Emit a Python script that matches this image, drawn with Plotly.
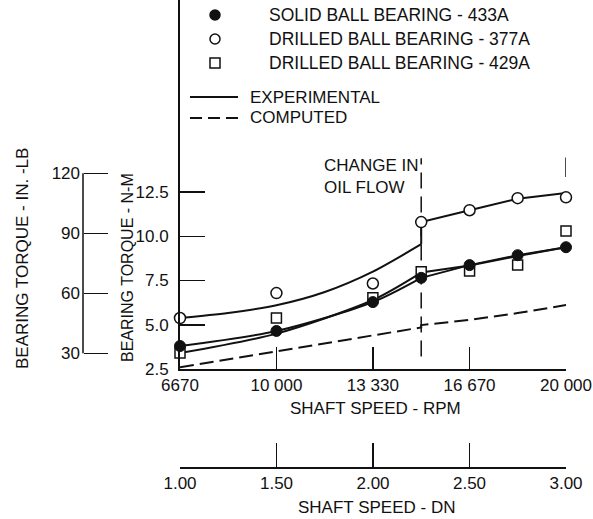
import plotly.graph_objects as go

W, H = 593, 519
FONT = "Liberation Sans, Arial, sans-serif"
INK = "#111111"
FS = 17

# ---- data ----
rpm = [6670, 10000, 13330, 15000, 16670, 18330, 20000]
solid_433A = [3.80, 4.65, 6.28, 7.65, 8.37, 8.93, 9.38]
drilled_377A = [5.38, 6.79, 7.33, 10.80, 11.47, 12.15, 12.20]
drilled_429A = [3.40, 5.38, 6.53, 7.99, 8.03, 8.37, 10.29]

exp_377A_rpm = [6670, 8330, 10000, 11670, 13330, 15000]
exp_377A = [5.38, 5.66, 6.10, 6.85, 8.00, 9.55]
exp_377A_hi_rpm = [15000, 15000, 16670, 18330, 20000]
exp_377A_hi = [9.55, 10.80, 11.47, 12.12, 12.45]
exp_lo_rpm = [6670, 10000, 13330, 15000]
exp_433A = [3.80, 4.65, 6.28, 7.65]
exp_429A = [3.40, 4.50, 6.40, 7.95]
exp_hi_rpm = [15000, 16670, 18330, 20000]
exp_433A_hi = [7.65, 8.37, 8.93, 9.38]
exp_429A_hi = [7.95, 8.35, 8.88, 9.38]

computed_rpm = [6670, 10000, 13330, 15000, 15000, 16670, 18330, 20000]
computed = [2.60, 3.50, 4.42, 4.85, 4.98, 5.27, 5.66, 6.11]

rpm_ticks = [6670, 10000, 13330, 16670, 20000]
rpm_labels = ["6670", "10 000", "13 330", "16 670", "20 000"]
nm_ticks = [2.5, 5.0, 7.5, 10.0, 12.5]
nm_labels = ["2.5", "5.0", "7.5", "10.0", "12.5"]
inlb_ticks = [30, 60, 90, 120]
dn_ticks = [1.0, 1.5, 2.0, 2.5, 3.0]
dn_labels = ["1.00", "1.50", "2.00", "2.50", "3.00"]

oil_flow_change_rpm = 15000
NM_PER_INLB = 0.112985

legend_names = ["SOLID BALL BEARING - 433A", "DRILLED BALL BEARING - 377A",
                "DRILLED BALL BEARING - 429A"]

# ---- geometry (pixels) ----
X0, X1 = 180, 566          # x axis ends
YB = 369                   # bottom of torque axis (2.5 N-m)
PX_PER_NM = 177 / 10.0     # 2.5 -> 12.5 spans 177 px
y_top = 2.5 + YB / PX_PER_NM
DN_Y = 467
INLB_X = 83


def px(x):
    return x / W


def py(y):
    return 1 - y / H


fig = go.Figure()

line = dict(color=INK, width=2)
fig.add_trace(go.Scatter(x=computed_rpm, y=computed, mode="lines",
                         line=dict(color=INK, width=2, dash="14px,6px"), cliponaxis=False))
fig.add_trace(go.Scatter(x=exp_377A_rpm, y=exp_377A, mode="lines",
                         line=dict(line, shape="spline", smoothing=0.8), cliponaxis=False))
fig.add_trace(go.Scatter(x=exp_377A_hi_rpm, y=exp_377A_hi, mode="lines",
                         line=line, cliponaxis=False))
fig.add_trace(go.Scatter(x=exp_lo_rpm, y=exp_433A, mode="lines",
                         line=dict(line, shape="spline", smoothing=0.8), cliponaxis=False))
fig.add_trace(go.Scatter(x=exp_lo_rpm, y=exp_429A, mode="lines",
                         line=dict(line, shape="spline", smoothing=0.8), cliponaxis=False))
fig.add_trace(go.Scatter(x=exp_hi_rpm, y=exp_433A_hi, mode="lines", line=line, cliponaxis=False))
fig.add_trace(go.Scatter(x=exp_hi_rpm, y=exp_429A_hi, mode="lines", line=line, cliponaxis=False))

fig.add_trace(go.Scatter(x=rpm, y=drilled_429A, mode="markers", cliponaxis=False,
                         marker=dict(symbol="square", size=10, color="white",
                                     line=dict(color=INK, width=1.5))))
fig.add_trace(go.Scatter(x=rpm, y=drilled_377A, mode="markers", cliponaxis=False,
                         marker=dict(symbol="circle", size=11, color="white",
                                     line=dict(color=INK, width=1.5))))
fig.add_trace(go.Scatter(x=rpm, y=solid_433A, mode="markers", cliponaxis=False,
                         marker=dict(symbol="circle", size=11, color=INK,
                                     line=dict(color=INK, width=1))))

# dummy traces so the secondary axes are drawn
fig.add_trace(go.Scatter(x=[dn_ticks[0], dn_ticks[-1]], y=[nm_ticks[0], nm_ticks[0]],
                         xaxis="x2", yaxis="y", mode="markers",
                         marker=dict(opacity=0), hoverinfo="skip"))
fig.add_trace(go.Scatter(x=[rpm[0], rpm[0]], y=[inlb_ticks[0], inlb_ticks[-1]],
                         xaxis="x", yaxis="y2", mode="markers",
                         marker=dict(opacity=0), hoverinfo="skip"))

tickfont = dict(family=FONT, size=FS, color=INK)
xdom = [px(X0), px(X1)]
ydom = [py(YB), 1.0]

common = dict(showgrid=False, zeroline=False, tickfont=tickfont, automargin=False,
              tickcolor=INK, tickwidth=1.5, tickmode="array")

fig.update_layout(
    width=W, height=H, autosize=False,
    margin=dict(l=0, r=0, t=0, b=0, pad=0),
    paper_bgcolor="white", plot_bgcolor="white",
    showlegend=False, hovermode=False,
    font=dict(family=FONT, size=FS, color=INK),
    xaxis=dict(common, domain=xdom, range=[rpm_ticks[0], rpm_ticks[-1]], anchor="y",
               tickvals=rpm_ticks, ticktext=rpm_labels,
               ticks="inside", ticklen=22,
               showline=True, linecolor=INK, linewidth=2,
               ticklabelstandoff=0),
    yaxis=dict(common, domain=ydom, range=[2.5, y_top], anchor="x",
               tickvals=nm_ticks, ticktext=nm_labels,
               ticks="inside", ticklen=25,
               showline=True, linecolor=INK, linewidth=2,
               ticklabelstandoff=6),
    xaxis2=dict(common, overlaying="x", anchor="free", position=py(DN_Y), side="bottom",
                range=[dn_ticks[0], dn_ticks[-1]],
                tickvals=dn_ticks, ticktext=dn_labels,
                ticks="inside", ticklen=24,
                showline=True, linecolor=INK, linewidth=1.5,
                ticklabelstandoff=0),
    yaxis2=dict(common, overlaying="y", anchor="free", position=px(INLB_X), side="left",
                range=[2.5 / NM_PER_INLB, y_top / NM_PER_INLB],
                tickvals=inlb_ticks,
                ticks="inside", ticklen=24,
                showline=False, ticklabelstandoff=3),
)

shapes = []
# bracket for in-lb scale (in N-m on the main axis)
shapes.append(dict(type="line", xref="paper", yref="y", x0=px(INLB_X), x1=px(INLB_X),
                   y0=inlb_ticks[0] * NM_PER_INLB, y1=inlb_ticks[-1] * NM_PER_INLB,
                   line=dict(color=INK, width=1.5)))
# change in oil flow marker
shapes.append(dict(type="line", xref="x", yref="y", x0=oil_flow_change_rpm, x1=oil_flow_change_rpm,
                   y0=3.2, y1=14.4, line=dict(color=INK, width=1.5, dash="16px,8px"), layer="below"))
shapes.append(dict(type="line", xref="x", yref="y", x0=rpm_ticks[-1], x1=rpm_ticks[-1],
                   y0=13.35, y1=14.45, line=dict(color=INK, width=1.5), layer="below"))
# legend symbols
LX = 215
for ly, kind in [(15, "filled"), (39, "open"), (63, "square")]:
    r = 5
    shapes.append(dict(type="circle" if kind != "square" else "rect", xref="paper", yref="paper",
                       x0=px(LX - r), x1=px(LX + r), y0=py(ly + r), y1=py(ly - r),
                       fillcolor=INK if kind == "filled" else "white",
                       line=dict(color=INK, width=1.5)))
shapes.append(dict(type="line", xref="paper", yref="paper", x0=px(190), x1=px(238),
                   y0=py(97), y1=py(97), line=dict(color=INK, width=2)))
shapes.append(dict(type="line", xref="paper", yref="paper", x0=px(190), x1=px(238),
                   y0=py(118), y1=py(118), line=dict(color=INK, width=2, dash="12px,6px")))
fig.update_layout(shapes=shapes)

ann = []


def text(t, x, y, xanchor="left", angle=0, size=FS):
    ann.append(dict(text=t, x=px(x), y=py(y), xref="paper", yref="paper",
                    xanchor=xanchor, yanchor="middle", showarrow=False, textangle=angle,
                    font=dict(family=FONT, size=size, color=INK)))


for name, ly in zip(legend_names, [15, 39, 63]):
    text(name, 267, ly, size=17.5)
text("EXPERIMENTAL", 248, 97)
text("COMPUTED", 248, 118)
text("CHANGE IN", 322, 165)
text("OIL FLOW", 322, 188)
text("SHAFT SPEED - RPM", 375, 408, "center")
text("SHAFT SPEED - DN", 377, 507, "center")
text("BEARING TORQUE - N-M", 127, 268, "center", -90, size=16)
text("BEARING TORQUE - IN. -LB", 22, 259, "center", -90)
fig.update_layout(annotations=ann)

fig.write_html("out.html",
               config={"displayModeBar": False, "staticPlot": True},
               post_script="document.body.style.margin='0px';document.body.style.overflow='hidden';")
